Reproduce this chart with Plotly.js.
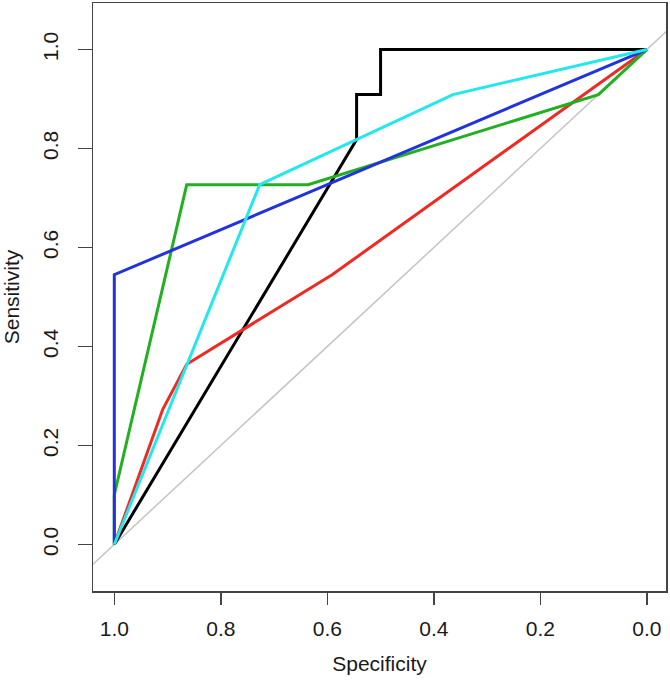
<!DOCTYPE html>
<html>
<head>
<meta charset="utf-8">
<script src="https://cdn.plot.ly/plotly-3.0.1.min.js"></script>
<style>html,body{margin:0;padding:0;background:#fff;}#chart{width:670px;height:683px;}</style>
</head>
<body>
<div id="chart"></div>
<script>
// Reference diagonal (chance line)
var diagSpec = [1.2, -0.2];
var diagSens = [-0.2, 1.2];

// ROC curves (specificity, sensitivity)
var blackSpec = [1, 0.545, 0.545, 0.5, 0.5, 0];
var blackSens = [0, 0.818, 0.909, 0.909, 1, 1];

var redSpec = [1, 0.909, 0.864, 0.591, 0];
var redSens = [0, 0.273, 0.364, 0.545, 1];

var greenSpec = [1, 1, 0.864, 0.636, 0.091, 0];
var greenSens = [0, 0.1, 0.727, 0.727, 0.909, 1];

var blueSpec = [1, 1, 0];
var blueSens = [0, 0.545, 1];

var cyanSpec = [1, 0.727, 0.364, 0];
var cyanSens = [0, 0.727, 0.909, 1];

var tickVals = [0, 0.2, 0.4, 0.6, 0.8, 1.0];
var tickText = ["0.0", "0.2", "0.4", "0.6", "0.8", "1.0"];

function line(x, y, color, width) {
  return {x: x, y: y, type: 'scatter', mode: 'lines', hoverinfo: 'skip',
          line: {color: color, width: width}};
}

var data = [
  line(diagSpec, diagSens, '#c4c4c4', 1.5),
  line(blackSpec, blackSens, '#000000', 3),
  line(redSpec, redSens, '#ee2a22', 3),
  line(greenSpec, greenSens, '#22b022', 3),
  line(blueSpec, blueSens, '#2233dd', 3),
  line(cyanSpec, cyanSens, '#22e8ee', 3)
];

var font = {family: '"Liberation Sans", Arial, sans-serif', size: 21, color: '#1a1a1a'};

var layout = {
  width: 670, height: 683,
  margin: {l: 93, r: 4, t: 3, b: 92, pad: 0},
  showlegend: false,
  paper_bgcolor: '#fff', plot_bgcolor: '#fff',
  font: font,
  xaxis: {
    range: [1.04, -0.036], autorange: false,
    tickvals: tickVals, ticktext: tickText,
    ticks: 'outside', ticklen: 12, tickwidth: 1.5, tickcolor: '#444',
    ticklabelstandoff: 6,
    showgrid: false, zeroline: false,
    showline: true, mirror: true, linecolor: '#444', linewidth: 1.5,
    tickfont: font,
    title: {text: 'Specificity', font: font, standoff: 17}
  },
  yaxis: {
    range: [-0.094, 1.094], autorange: false,
    tickvals: tickVals, ticktext: tickText,
    ticks: 'outside', ticklen: 14, tickwidth: 1.5, tickcolor: '#444',
    tickangle: -90,
    ticklabelstandoff: 11,
    showgrid: false, zeroline: false,
    showline: true, mirror: true, linecolor: '#444', linewidth: 1.5,
    tickfont: font,
    title: {text: 'Sensitivity', font: font, standoff: 17}
  }
};

Plotly.newPlot('chart', data, layout, {displayModeBar: false, staticPlot: true});
</script>
</body>
</html>
